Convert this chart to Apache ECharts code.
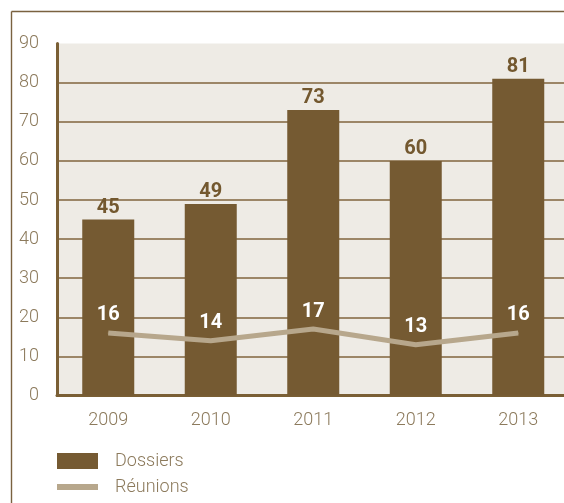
<!DOCTYPE html>
<html><head><meta charset="utf-8">
<script src="https://cdn.jsdelivr.net/npm/echarts@6/dist/echarts.min.js"></script>
<style>html,body{margin:0;padding:0;background:#fff;overflow:hidden}#c{width:570px;height:503px}</style>
</head><body><div id="c"></div>
<script>
const years = ['2009','2010','2011','2012','2013'];
const dossiers = [45,49,73,60,81];
const reunions = [16,14,17,13,16];
const yTicks = {min:0, max:90, interval:10};

const chart = echarts.init(document.getElementById('c'), null, {renderer:'canvas'});
const brown = '#755a32';
const beige = '#b7a78c';
const txt = '#8c7a5c';
chart.setOption({
  animation:false,
  grid:{left:57, top:43.6, right:0.5, bottom:107.5, show:true, backgroundColor:'#eeebe5', borderWidth:0, containLabel:false},
  graphic:[
    {type:'line', shape:{x1:11.5,y1:11.5,x2:570,y2:11.5}, style:{stroke:'#7a6240', lineWidth:1.4}, z:0},
    {type:'line', shape:{x1:11.5,y1:11.5,x2:11.5,y2:503}, style:{stroke:'#7a6240', lineWidth:1.4}, z:0}
  ],
  xAxis:{type:'category', data:years, boundaryGap:true,
    axisLine:{lineStyle:{color:'#7a5f35', width:3}}, axisTick:{show:false},
    axisLabel:{color:txt, fontFamily:'Roboto', fontWeight:300, fontSize:18, margin:16}},
  yAxis:{type:'value', min:yTicks.min, max:yTicks.max, interval:yTicks.interval,
    axisLine:{show:true, lineStyle:{color:'#7a5f35', width:3}}, axisTick:{show:false},
    axisLabel:{color:txt, fontFamily:'Roboto', fontWeight:300, fontSize:18, margin:18},
    splitLine:{show:true, showMinLine:false, showMaxLine:false, lineStyle:{color:'#9c8667', width:2}}},
  legend:{orient:'vertical', left:57, top:452, padding:0, itemWidth:41, itemHeight:16, itemGap:8,
    textStyle:{color:txt, fontFamily:'Roboto', fontWeight:300, fontSize:18, padding:[0,0,0,12]},
    data:[{name:'Dossiers', icon:'rect'}, {name:'Réunions', icon:'path://M0,0H41V6H0Z'}]},
  series:[
    {name:'Dossiers', type:'bar', data:dossiers, barWidth:52, itemStyle:{color:brown},
     label:{show:true, position:'top', distance:2, color:'#73582f', fontFamily:'Roboto', fontWeight:'bold', fontSize:20}},
    {name:'Réunions', type:'line', data:reunions, color:beige, showSymbol:true, symbol:'circle', symbolSize:1,
     itemStyle:{color:beige}, lineStyle:{color:beige, width:5, cap:'butt'}, z:5,
     label:{show:true, position:'top', distance:7, color:'#ffffff', fontFamily:'Roboto', fontWeight:'bold', fontSize:20}}
  ]
});
</script></body></html>
